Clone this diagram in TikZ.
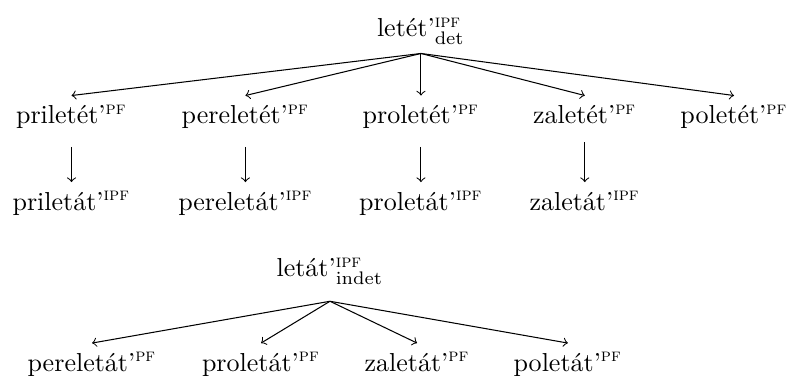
\documentclass[tikz,border=0pt]{standalone}
\usepackage{amsmath}
\usetikzlibrary{trees}

\tikzset{
  word/.style={anchor=base},
  derive/.style={draw,->}
}

\begin{document}
\begin{tikzpicture}[every node/.style={word},
    growth parent anchor=base,
    edge from parent/.style={derive},
    edge from parent path={(\tikzparentnode.south) -- (\tikzchildnode.north)}]
\useasboundingbox (0,0) rectangle (304.6pt,-144.6pt);
% determinate verb
\node (letet) at (161.9pt,-14.2pt) {letét’$^{\textsc{ipf}}_{\mathrm{det}}$}
    [level distance=33.3pt,
     level 1/.style={sibling distance=63pt},
     level 2/.style={edge from parent/.style={derive,shorten <=3.5pt}}]
    child[xshift=-8.4pt] {node (priletet) {priletét’$^{\textsc{pf}}$}
        child {node (priletat) {priletát’$^{\textsc{ipf}}$}}
    }
    child[xshift=-4.5pt] {node (pereletet) {pereletét’$^{\textsc{pf}}$}
        child {node (pereletat) {pereletát’$^{\textsc{ipf}}$}}
    }
    child {node (proletet) {proletét’$^{\textsc{pf}}$}
        child {node (proletat) {proletát’$^{\textsc{ipf}}$}}
    }
    child {node (zaletet) {zaletét’$^{\textsc{pf}}$}
        child {node (zaletat) {zaletát’$^{\textsc{ipf}}$}}
    }
    child[xshift=-5.6pt] {node (poletet) {poletét’$^{\textsc{pf}}$}};
% indeterminate verb
\node (letat) at (126.9pt,-106.5pt) {letát’$^{\textsc{ipf}}_{\mathrm{indet}}$}
    [level distance=36.2pt, sibling distance=61pt,
     edge from parent path={([yshift=-3pt]\tikzparentnode.south) -- (\tikzchildnode.north)}]
    child {node (pereletatpf) {pereletát’$^{\textsc{pf}}$}}
    child[xshift=4pt] {node (proletatpf) {proletát’$^{\textsc{pf}}$}}
    child[xshift=3pt] {node (zaletatpf) {zaletát’$^{\textsc{pf}}$}}
    child {node (poletatpf) {poletát’$^{\textsc{pf}}$}};
\end{tikzpicture}
\end{document}
